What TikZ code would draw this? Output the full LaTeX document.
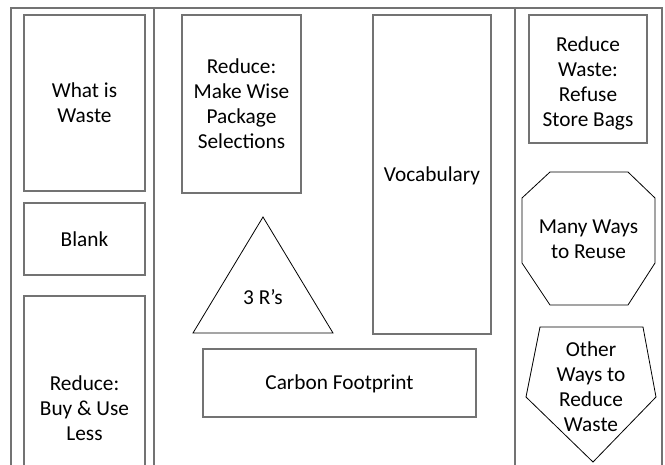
\documentclass[tikz,border=0pt]{standalone}
\usepackage{fontspec}
\setmainfont{Carlito}
\definecolor{linegray}{RGB}{115,115,115}
\begin{document}
\begin{tikzpicture}[x=1pt,y=-1pt,
  framestyle/.style={draw=linegray, line width=1.6pt},
  box/.style={draw=linegray, line width=1.6pt, inner sep=0pt, align=center, font=\fontsize{21.3}{25}\selectfont},
  txt/.style={inner sep=0pt, align=center, font=\fontsize{21.3}{25}\selectfont},
  poly/.style={draw=black, line width=0.8pt, line join=miter}]
\useasboundingbox (0,0) rectangle (665,464);
\fill[white] (0,0) rectangle (665,464);
% frame
\draw[framestyle] (11,480) -- (11,8) -- (662,8) -- (662,480);
\draw[framestyle] (154,8) -- (154,480);
\draw[framestyle] (515,8) -- (515,480);
% left column
\node[box, minimum width=121pt, minimum height=176pt] (waste) at (84.5,103) {What is\\Waste};
\node[box, minimum width=121pt, minimum height=72pt] (blank) at (84.5,239) {Blank};
\node[box, minimum width=121pt, minimum height=224pt] (buy) at (84.5,408) {Reduce:\\Buy \& Use\\Less};
% middle column
\node[box, minimum width=119pt, minimum height=178pt] (wise) at (241.5,104) {Reduce:\\Make Wise\\Package\\Selections};
\node[box, minimum width=118pt, minimum height=319pt] (vocab) at (432,174.5) {};
\node[txt] (vocabt) at (432,176) {Vocabulary};
\node[box, minimum width=273pt, minimum height=68pt] (carbon) at (339.5,383) {};
\node[txt] (carbont) at (339.5,384) {Carbon Footprint};
\draw[poly] (263,217) -- (333,333) -- (193,333) -- cycle;
\node[txt] (threer) at (263,297) {3 R’s};
% right column
\node[box, minimum width=118pt, minimum height=128pt] (refuse) at (588,79) {};
\node[txt] (refuset) at (588,83) {Reduce\\Waste:\\Refuse\\Store Bags};
\draw[poly] (550,172) -- (628,172) -- (655,198) -- (655,263) -- (628,305) -- (550,305) -- (522,263) -- (522,198) -- cycle;
\node[txt] (reuse) at (588.5,239) {Many Ways\\to Reuse};
\draw[poly] (540,327) -- (643,327) -- (656,397) -- (593,462) -- (526,397) -- cycle;
\node[txt] (other) at (591,387) {Other\\Ways to\\Reduce\\Waste};
\end{tikzpicture}
\end{document}
